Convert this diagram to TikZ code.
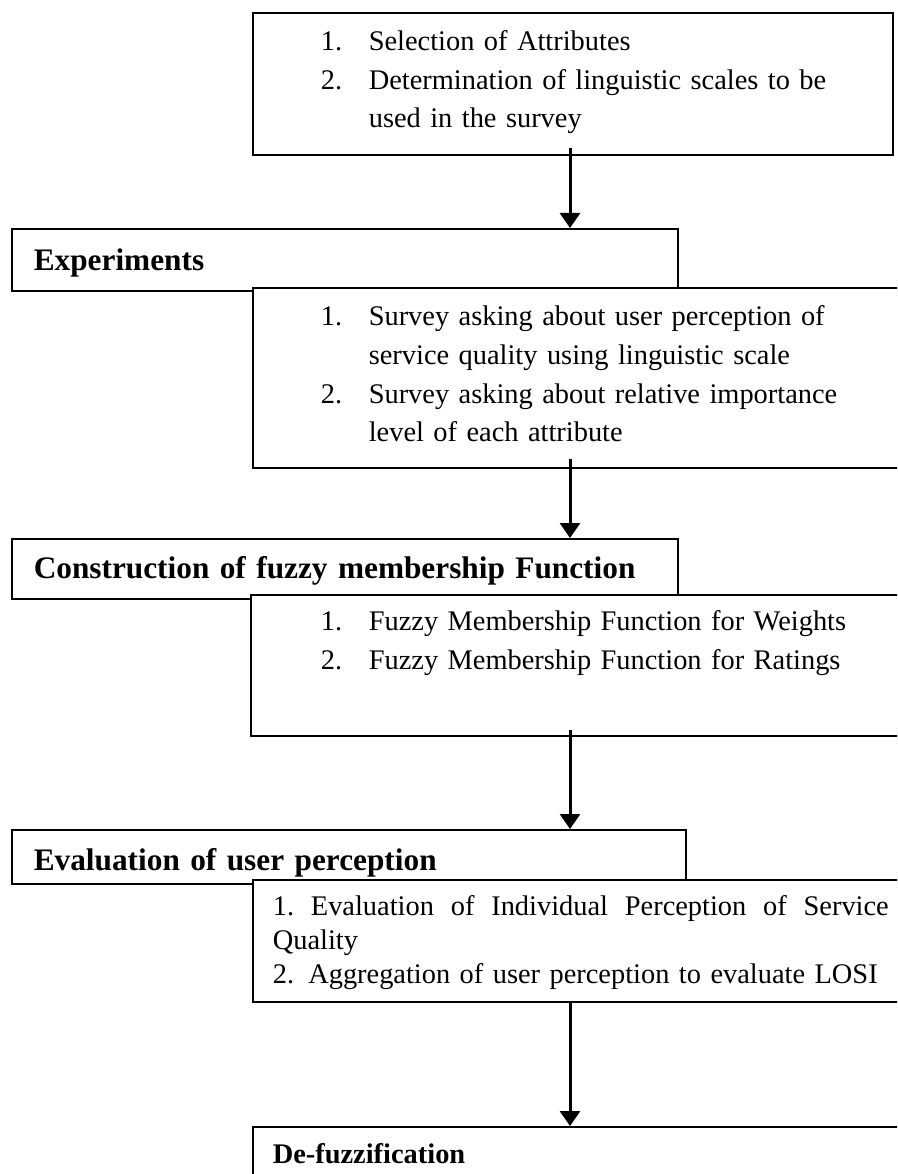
\documentclass[tikz,border=0pt]{standalone}
\usepackage{fontspec}
\setmainfont{Liberation Serif}
\usetikzlibrary{arrows.meta}

\newcommand{\itemno}[1]{\makebox[48pt][l]{#1}}

\begin{document}
\begin{tikzpicture}[x=1pt,y=-1pt,
  box/.style={draw,line width=1.6pt,fill=white,anchor=north west,align=left,inner ysep=0pt,font=\fontsize{28.4}{38.6}\selectfont},
  head/.style={box,inner xsep=22pt,text width=622pt,font=\fontsize{31.3}{38}\selectfont\bfseries},
  flow/.style={line width=3pt,-{Triangle[width=20pt,length=15pt]}}]
\useasboundingbox (0,0) rectangle (897,1174);
\clip (0,0) rectangle (897,1174);
\coordinate (axis) at (570,0);
\node[box,inner xsep=68pt,text width=504pt,text height=38pt,text depth=104pt] (sel) at (252,12)
  {\itemno{1.}Selection of Attributes\\ \itemno{2.}\mbox{Determination of linguistic scales to be}\\ \hspace*{48pt}used in the survey};
\node[head,text height=42pt,text depth=20pt] (exp) at (11,228) {Experiments};
\node[box,inner xsep=68pt,text width=532pt,text height=38pt,text depth=142pt] (survey) at (252,287)
  {\itemno{1.}Survey asking about user perception of\\ \hspace*{48pt}service quality using linguistic scale\\ \itemno{2.}Survey asking about relative importance\\ \hspace*{48pt}level of each attribute};
\node[head,text height=40pt,text depth=20pt] (cons) at (11,538) {Construction of fuzzy membership Function};
\node[box,inner xsep=70pt,text width=540pt,text height=36pt,text depth=105pt] (mf) at (250,594)
  {\itemno{1.}Fuzzy Membership Function for Weights\\ \itemno{2.}Fuzzy Membership Function for Ratings};
\node[head,text width=630pt,text height=41pt,text depth=13pt] (eval) at (11,829) {Evaluation of user perception};
\node[box,inner xsep=20pt,text width=640pt,text height=36pt,text depth=86pt,font=\fontsize{28.4}{34}\selectfont] (agg) at (252,879)
  {\hbox to 616pt{1.\hfill Evaluation\hfill of\hfill Individual\hfill Perception\hfill of\hfill Service}\\ Quality\\ 2. Aggregation of user perception to evaluate LOSI};
\node[box,inner xsep=20pt,text width=640pt,text height=37pt,text depth=60pt,font=\fontsize{28.4}{34}\selectfont\bfseries] (defuzz) at (252,1126) {De-fuzzification};
\draw[flow] ([yshift=8pt]sel.south -| axis) -- (exp.north -| axis);
\draw[flow] ([yshift=10pt]survey.south -| axis) -- (cons.north -| axis);
\draw[flow] ([yshift=7pt]mf.south -| axis) -- (eval.north -| axis);
\draw[flow] (agg.south -| axis) -- (defuzz.north -| axis);
\end{tikzpicture}
\end{document}
